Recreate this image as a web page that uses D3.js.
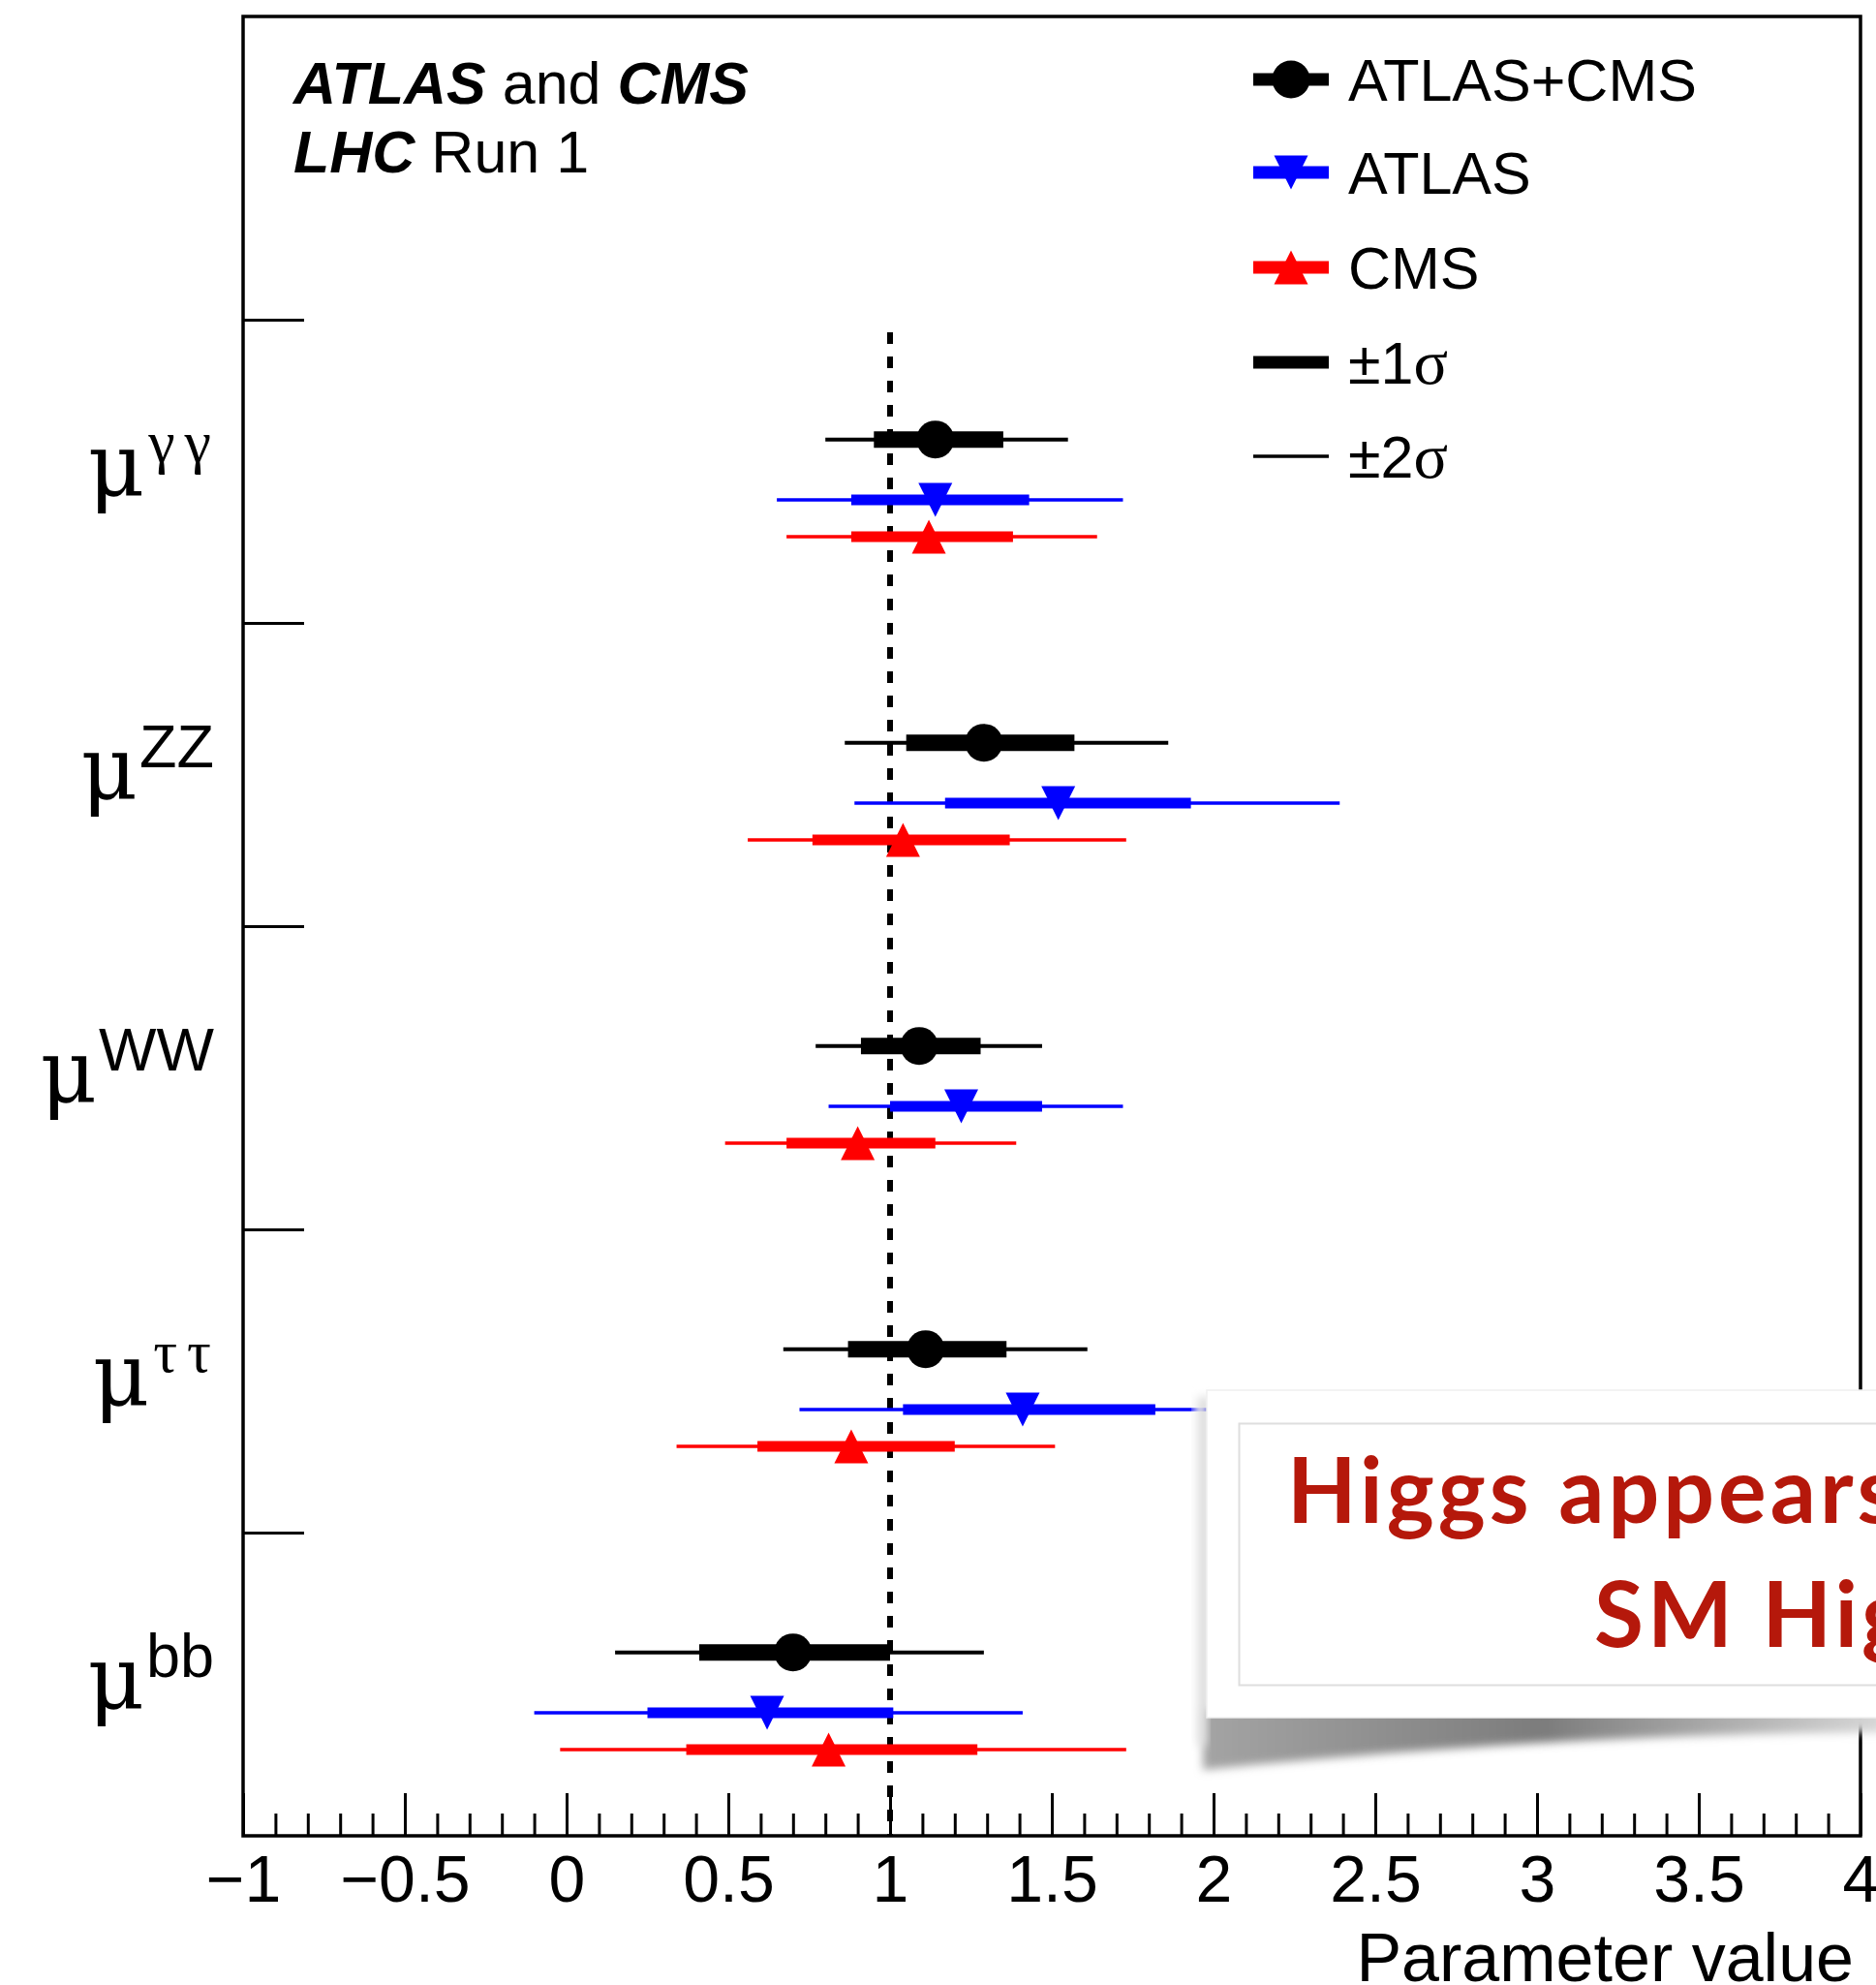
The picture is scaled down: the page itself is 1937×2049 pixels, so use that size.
<!DOCTYPE html>
<html><head><meta charset="utf-8">
<script src="https://cdn.jsdelivr.net/npm/d3@7"></script>
<style>body{margin:0;overflow:hidden;background:#fff}</style>
</head><body>
<script>
// ---------- data ----------
const categories = ["γγ", "ZZ", "WW", "ττ", "bb"];
const greekSup   = [true, false, false, true, false];

const combVal  = [1.14, 1.29, 1.09, 1.11, 0.70];
const comb1Lo  = [0.95, 1.05, 0.91, 0.87, 0.41];
const comb1Hi  = [1.35, 1.57, 1.28, 1.36, 1.00];
const comb2Lo  = [0.80, 0.86, 0.77, 0.67, 0.15];
const comb2Hi  = [1.55, 1.86, 1.47, 1.61, 1.29];

const atlasVal = [1.14, 1.52, 1.22, 1.41, 0.62];
const atlas1Lo = [0.88, 1.17, 1.00, 1.04, 0.25];
const atlas1Hi = [1.43, 1.93, 1.47, 1.82, 1.01];
const atlas2Lo = [0.65, 0.89, 0.81, 0.72, -0.10];
const atlas2Hi = [1.72, 2.39, 1.72, 2.25, 1.41];

const cmsVal   = [1.12, 1.04, 0.90, 0.88, 0.81];
const cms1Lo   = [0.88, 0.76, 0.68, 0.59, 0.37];
const cms1Hi   = [1.38, 1.37, 1.14, 1.20, 1.27];
const cms2Lo   = [0.68, 0.56, 0.49, 0.34, -0.02];
const cms2Hi   = [1.64, 1.73, 1.39, 1.51, 1.73];

const xMajorTicks = [-1, -0.5, 0, 0.5, 1, 1.5, 2, 2.5, 3, 3.5, 4];
const legendLabels = ["ATLAS+CMS", "ATLAS", "CMS", "±1σ", "±2σ"];

// ---------- layout ----------
const W = 1937, H = 2049;
const L = 251, R = 1921, T = 17, B = 1895;
const SANS = "'Liberation Sans', Arial, Helvetica, sans-serif";
const SERIF = "'Liberation Serif', 'Times New Roman', serif";
const MUFONT = "'DejaVu Serif', 'Liberation Serif', serif";

const svg = d3.select("body").append("svg").attr("width", W).attr("height", H);
const x = d3.scaleLinear().domain([-1, 4]).range([L, R]);
const y = d3.scaleLinear().domain([0, 6]).range([T, B]);

const series = [
  {name: "comb",  color: "#000", val: combVal,  lo1: comb1Lo,  hi1: comb1Hi,  lo2: comb2Lo,  hi2: comb2Hi,  off: 0.395, w1: 17, w2: 4,   marker: "circle"},
  {name: "atlas", color: "#0000ff", val: atlasVal, lo1: atlas1Lo, hi1: atlas1Hi, lo2: atlas2Lo, hi2: atlas2Hi, off: 0.594, w1: 11, w2: 3.5, marker: "down"},
  {name: "cms",   color: "#ff0000", val: cmsVal,   lo1: cms1Lo,   hi1: cms1Hi,   lo2: cms2Lo,   hi2: cms2Hi,   off: 0.716, w1: 11, w2: 3.5, marker: "up"}
];

function drawMarker(g, type, cx, cy, color) {
  if (type === "circle") {
    g.append("circle").attr("cx", cx).attr("cy", cy).attr("r", 19.5).attr("fill", color);
  } else {
    const s = 17.5;
    const p = type === "down"
      ? `M${cx - s},${cy - s}L${cx + s},${cy - s}L${cx},${cy + s}Z`
      : `M${cx - s},${cy + s}L${cx + s},${cy + s}L${cx},${cy - s}Z`;
    g.append("path").attr("d", p).attr("fill", color);
  }
}

// ---------- axes ----------
const minorTicks = d3.range(-10, 41).map(d => d / 10).filter(d => Math.abs(d * 2 - Math.round(d * 2)) > 1e-6);

const gxMinor = svg.append("g").attr("transform", `translate(0,${B})`)
  .call(d3.axisBottom(x).tickValues(minorTicks).tickSize(-23).tickFormat(""));
gxMinor.select(".domain").remove();
gxMinor.selectAll("line").attr("stroke", "#000").attr("stroke-width", 3);

const gx = svg.append("g").attr("transform", `translate(0,${B})`)
  .call(d3.axisBottom(x).tickValues(xMajorTicks).tickSize(-44).tickPadding(20).tickFormat(d3.format("")));
gx.select(".domain").remove();
gx.selectAll("line").attr("stroke", "#000").attr("stroke-width", 3);
gx.selectAll("text").attr("font-family", SANS).attr("font-size", 68).attr("fill", "#000");

const gy = svg.append("g").attr("transform", `translate(${L},0)`)
  .call(d3.axisLeft(y).tickValues([1, 2, 3, 4, 5]).tickSize(-63).tickFormat(""));
gy.select(".domain").remove();
gy.selectAll("line").attr("stroke", "#000").attr("stroke-width", 3);

svg.append("text").attr("x", 1914).attr("y", 2045).attr("text-anchor", "end")
  .attr("font-family", SANS).attr("font-size", 70).text("Parameter value");

// ---------- y labels ----------
categories.forEach((c, i) => {
  const g = greekSup[i];
  const t = svg.append("text").attr("x", g ? 218 : 221).attr("y", y(i + 1) + 181)
    .attr("text-anchor", "end").attr("fill", "#000");
  t.append("tspan").attr("font-family", MUFONT).attr("font-size", 90).text("μ");
  if (g) {
    // two separate glyphs with a gap, as in the Symbol-font rendering
    t.append("tspan").attr("dy", -34).attr("dx", 4)
      .attr("font-family", SERIF).attr("font-size", 62).text(c[0]);
    t.append("tspan").attr("dx", 10)
      .attr("font-family", SERIF).attr("font-size", 62).text(c[1]);
  } else {
    t.append("tspan").attr("dy", -32).attr("dx", 2)
      .attr("font-family", SANS).attr("font-size", 63).text(c);
  }
});

// ---------- SM line ----------
svg.append("line").attr("x1", x(1)).attr("x2", x(1)).attr("y1", 343).attr("y2", B)
  .attr("stroke", "#000").attr("stroke-width", 6).attr("stroke-dasharray", "12,13");

// ---------- data ----------
const gd = svg.append("g");
series.forEach(s => {
  categories.forEach((c, i) => {
    const cy = y(i + 1 + s.off);
    gd.append("line").attr("x1", x(s.lo2[i])).attr("x2", x(s.hi2[i])).attr("y1", cy).attr("y2", cy)
      .attr("stroke", s.color).attr("stroke-width", s.w2);
    gd.append("line").attr("x1", x(s.lo1[i])).attr("x2", x(s.hi1[i])).attr("y1", cy).attr("y2", cy)
      .attr("stroke", s.color).attr("stroke-width", s.w1);
    drawMarker(gd, s.marker, x(s.val[i]), cy, s.color);
  });
});

// ---------- frame ----------
svg.append("rect").attr("x", L).attr("y", T).attr("width", R - L).attr("height", B - T)
  .attr("fill", "none").attr("stroke", "#000").attr("stroke-width", 3.5);

// ---------- top-left text ----------
const t1 = svg.append("text").attr("x", 303).attr("y", 107).attr("font-family", SANS).attr("font-size", 61);
t1.append("tspan").attr("font-weight", "bold").attr("font-style", "italic").text("ATLAS");
t1.append("tspan").text(" and ");
t1.append("tspan").attr("font-weight", "bold").attr("font-style", "italic").text("CMS");
const t2 = svg.append("text").attr("x", 303).attr("y", 178).attr("font-family", SANS).attr("font-size", 61);
t2.append("tspan").attr("font-weight", "bold").attr("font-style", "italic").text("LHC");
t2.append("tspan").text(" Run 1");

// ---------- legend ----------
const legY = [82, 178, 276, 374, 471];
const legColors = ["#000", "#0000ff", "#ff0000", "#000", "#000"];
const legWidths = [13, 13, 13, 13, 3.5];
const legMarkers = ["circle", "down", "up", null, null];
legendLabels.forEach((lab, i) => {
  const ly = legY[i];
  svg.append("line").attr("x1", 1294).attr("x2", 1372).attr("y1", ly).attr("y2", ly)
    .attr("stroke", legColors[i]).attr("stroke-width", legWidths[i]);
  if (legMarkers[i]) drawMarker(svg, legMarkers[i], 1333, ly, legColors[i]);
  const isSigma = i >= 3;
  const tt = svg.append("text").attr("x", 1392).attr("y", ly + 22).attr("font-family", SANS).attr("font-size", 61);
  if (isSigma) {
    tt.append("tspan").text(lab.slice(0, 2));
    tt.append("tspan").attr("font-family", SERIF).attr("font-size", 66).text(lab.slice(2));
  } else {
    tt.text(lab);
  }
});

// ---------- callout box ----------
const defs = svg.append("defs");
const blur = defs.append("filter").attr("id", "blur").attr("x", "-20%").attr("y", "-50%").attr("width", "140%").attr("height", "200%");
blur.append("feGaussianBlur").attr("stdDeviation", 5);
const grad = defs.append("linearGradient").attr("id", "shgrad").attr("x1", "0").attr("x2", "1").attr("y1", "0").attr("y2", "0");
grad.append("stop").attr("offset", "0").attr("stop-color", "#a4a4a4");
grad.append("stop").attr("offset", "0.5").attr("stop-color", "#7c7c7c");
grad.append("stop").attr("offset", "1").attr("stop-color", "#d8d8d8");
const gradL = defs.append("linearGradient").attr("id", "shgradL").attr("x1", "0").attr("x2", "1").attr("y1", "0").attr("y2", "0");
gradL.append("stop").attr("offset", "0").attr("stop-color", "#fff");
gradL.append("stop").attr("offset", "1").attr("stop-color", "#c4c4c4");

svg.append("path")
  .attr("d", "M1242,1765 L1945,1765 L1945,1788 C1750,1789 1500,1800 1242,1827 Z")
  .attr("fill", "url(#shgrad)").attr("filter", "url(#blur)");
svg.append("rect").attr("x", 1233).attr("y", 1442).attr("width", 14).attr("height", 360)
  .attr("fill", "url(#shgradL)").attr("filter", "url(#blur)");

svg.append("rect").attr("x", 1246).attr("y", 1435).attr("width", 720).attr("height", 338)
  .attr("fill", "#fff").attr("stroke", "#f0f0f0").attr("stroke-width", 1.5);
svg.append("rect").attr("x", 1279.5).attr("y", 1469.5).attr("width", 700).attr("height", 270)
  .attr("fill", "none").attr("stroke", "#dedede").attr("stroke-width", 2);

const RED = "#b5180b";
const BOXFONT = "Lato, 'Noto Sans', 'Open Sans', sans-serif";
svg.append("text").attr("x", 1329).attr("y", 1572).attr("font-family", BOXFONT).attr("font-weight", 700)
  .attr("font-size", 93).attr("letter-spacing", 4).attr("fill", RED).text("Higgs appears");
svg.append("text").attr("x", 1646).attr("y", 1700).attr("font-family", BOXFONT).attr("font-weight", 700)
  .attr("font-size", 93).attr("letter-spacing", 4).attr("fill", RED).text("SM Higgs");
</script>
</body></html>
